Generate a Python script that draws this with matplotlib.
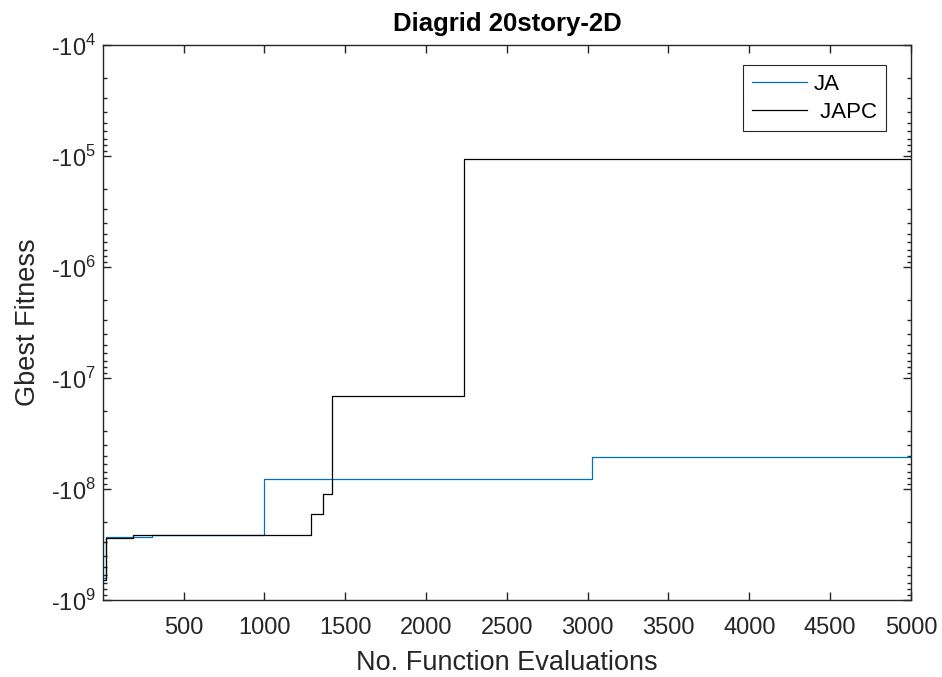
import matplotlib.pyplot as plt
from matplotlib.ticker import FixedLocator, FixedFormatter, LogLocator, NullFormatter

# Gbest fitness is negative; plotted as magnitude on an inverted log axis
ja_x = [1, 20, 307, 1000, 3024, 5000]
ja_y = [6.3e8, 2.72e8, 2.58e8, 8.18e7, 5.12e7, 5.12e7]

japc_x = [1, 18, 189, 1289, 1365, 1419, 2235, 4241, 5000]
japc_y = [6.6e8, 2.74e8, 2.58e8, 1.68e8, 1.12e8, 1.44e7, 1.07e5, 1.053e5, 1.053e5]

x_ticks = [500, 1000, 1500, 2000, 2500, 3000, 3500, 4000, 4500, 5000]
y_exps = [4, 5, 6, 7, 8, 9]

plt.rcParams['font.family'] = 'Liberation Sans'
plt.rcParams['mathtext.fontset'] = 'custom'
plt.rcParams['mathtext.rm'] = 'Liberation Sans'

fig = plt.figure(figsize=(9.42, 6.77), dpi=100)
ax = fig.add_axes([0.1093, 0.1137, 0.967 - 0.1093, 0.9335 - 0.1137])

ax.plot(ja_x, ja_y, drawstyle='steps-post', color='#0072BD', lw=0.9, label='JA')
ax.plot(japc_x, japc_y, drawstyle='steps-post', color='black', lw=0.9, label=' JAPC')

ax.set_yscale('log')
ax.set_ylim(1e9, 1e4)  # inverted: -1e9 at bottom, -1e4 at top
ax.set_xlim(1, 5000)

ax.yaxis.set_major_locator(FixedLocator([10.0 ** e for e in y_exps]))
ax.yaxis.set_major_formatter(FixedFormatter([r'-10$^{%d}$' % e for e in y_exps]))
ax.yaxis.set_minor_locator(LogLocator(base=10, subs=range(2, 10), numticks=20))
ax.yaxis.set_minor_formatter(NullFormatter())
ax.set_xticks(x_ticks)

ax.tick_params(which='both', direction='in', top=True, right=True, colors='#262626',
               labelsize=17, width=1)
ax.tick_params(which='major', length=6)
ax.tick_params(which='minor', length=3)
ax.tick_params(axis='x', pad=12)
ax.tick_params(axis='y', pad=5)
for s in ax.spines.values():
    s.set_color('#262626')
    s.set_linewidth(1)

ax.set_xlabel('No. Function Evaluations', fontsize=19.5, color='#262626', labelpad=8)
ax.set_ylabel('Gbest Fitness', fontsize=19.5, color='#262626', labelpad=7)
ax.set_title('Diagrid 20story-2D', fontsize=18.5, fontweight='bold', pad=10)

leg = ax.legend(loc='upper right', bbox_to_anchor=(0.969, 0.964), borderaxespad=0,
                fontsize=16, fancybox=False, edgecolor='#262626', framealpha=1,
                handlelength=2.5, handletextpad=0.3, borderpad=0.4, labelspacing=0.3)
leg.get_frame().set_linewidth(0.8)

fig.savefig('out.png', dpi=100)
